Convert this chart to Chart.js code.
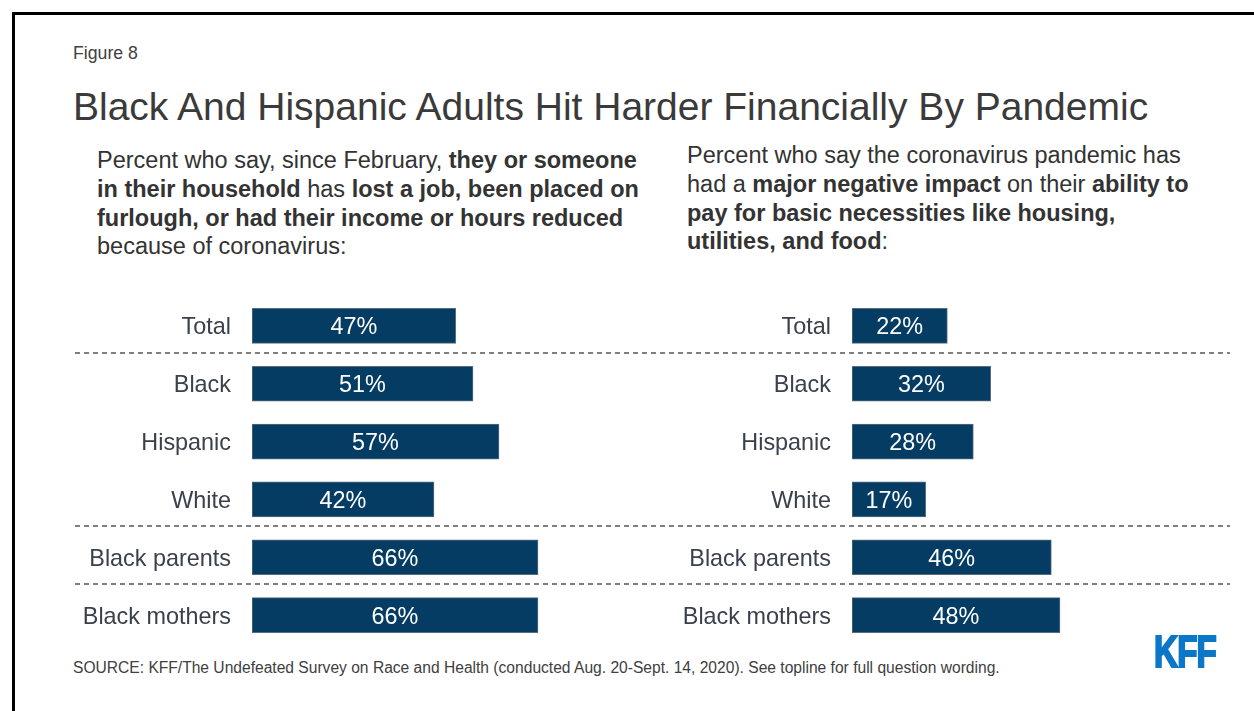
<!DOCTYPE html>
<html>
<head>
<meta charset="utf-8">
<script src="https://cdn.jsdelivr.net/npm/chart.js@4.4.0/dist/chart.umd.min.js"></script>
<style>
  html, body { margin: 0; padding: 0; background: #fff; }
  body {
    width: 1254px; height: 711px; position: relative; overflow: hidden;
    font-family: Arial, "Liberation Sans", sans-serif; color: #333;
  }
  .frame {
    position: absolute; left: 12px; top: 12px; width: 1260px; height: 720px;
    border-top: 3px solid #000; border-left: 3px solid #000;
  }
  .fig { position: absolute; left: 73px; top: 43px; font-size: 17.7px; line-height: 20px; color: #404040; }
  .title { position: absolute; left: 73px; top: 85px; font-size: 39px; line-height: 44px; color: #3a3a3a; white-space: nowrap; }
  .sub { position: absolute; font-size: 23.5px; line-height: 28.8px; color: #333; white-space: nowrap; }
  .sub b { font-weight: bold; }
  #subLeft { left: 97px; top: 146px; }
  #subRight { left: 687px; top: 141px; }
  .source { position: absolute; left: 73px; top: 658px; font-size: 15.6px; line-height: 20px; color: #404040; white-space: nowrap; }
  .logo {
    position: absolute; left: 1154px; top: 628px; font-size: 44.7px; line-height: 48px;
    font-weight: bold; color: #0a77c9; transform: scaleX(0.74); transform-origin: left center;
    letter-spacing: -1px; -webkit-text-stroke: 2.2px #0a77c9;
  }
  canvas { position: absolute; }
  #chartLeft { left: 75px; top: 297px; }
  #chartRight { left: 660px; top: 297px; }
</style>
</head>
<body>
<div class="frame"></div>
<div class="fig">Figure 8</div>
<div class="title">Black And Hispanic Adults Hit Harder Financially By Pandemic</div>
<div class="sub" id="subLeft">Percent who say, since February, <b>they or someone</b><br><b>in their household</b> has <b>lost a job, been placed on</b><br><b>furlough, or had their income or hours reduced</b><br>because of coronavirus:</div>
<div class="sub" id="subRight">Percent who say the coronavirus pandemic has<br>had a <b>major negative impact</b> on their <b>ability to</b><br><b>pay for basic necessities like housing,</b><br><b>utilities, and food</b>:</div>
<canvas id="chartLeft" width="585" height="347"></canvas>
<canvas id="chartRight" width="570" height="347"></canvas>
<div class="source">SOURCE: KFF/The Undefeated Survey on Race and Health (conducted Aug. 20-Sept. 14, 2020). See topline for full question wording.</div>
<div class="logo">KFF</div>

<script>
const categories = ['Total', 'Black', 'Hispanic', 'White', 'Black parents', 'Black mothers'];
// lost job / furlough / reduced income or hours
const jobLossValues = [47, 51, 57, 42, 66, 66];
// major negative impact on paying for basic necessities
const necessitiesValues = [22, 32, 28, 17, 46, 48];
// dashed separators go after these category indexes
const groupBreaks = [0, 3, 4];

const barColor = '#053c64';
const labelFont = { family: 'Arial, "Liberation Sans", sans-serif', size: 23.4 };

// dashed rules between the groups, across the full canvas width
const separators = {
    id: 'separators',
    afterDraw(chart) {
        const ctx = chart.ctx;
        const y = chart.scales.y;
        ctx.save();
        ctx.strokeStyle = '#555';
        ctx.lineWidth = 1.5;
        ctx.setLineDash([5, 4]);
        groupBreaks.forEach(i => {
            const py = Math.round((y.getPixelForValue(i) + y.getPixelForValue(i + 1)) / 2) - 2;
            ctx.beginPath();
            ctx.moveTo(0, py);
            ctx.lineTo(chart.width, py);
            ctx.stroke();
        });
        ctx.restore();
    }
};

// percent labels centred inside each bar
const barLabels = {
    id: 'barLabels',
    afterDatasetsDraw(chart) {
        const ctx = chart.ctx;
        const meta = chart.getDatasetMeta(0);
        const data = chart.data.datasets[0].data;
        ctx.save();
        ctx.fillStyle = '#fff';
        ctx.font = labelFont.size + 'px ' + labelFont.family;
        ctx.textAlign = 'center';
        ctx.textBaseline = 'middle';
        meta.data.forEach((bar, i) => {
            ctx.fillText(data[i] + '%', (bar.x + bar.base) / 2, bar.y + 2);
        });
        ctx.restore();
    }
};

function drawPanel(canvasId, values, xMax, axisWidth, padRight) {
    const ctx = document.getElementById(canvasId).getContext('2d');
    return new Chart(ctx, {
        type: 'bar',
        data: {
            labels: categories,
            datasets: [{
                data: values,
                backgroundColor: barColor,
                borderColor: '#5a6d80',
                borderWidth: 1,
                borderSkipped: false,
                barThickness: 35
            }]
        },
        options: {
            indexAxis: 'y',
            responsive: false,
            animation: false,
            layout: { padding: { left: 0, right: padRight, top: 0, bottom: 0 } },
            plugins: {
                legend: { display: false },
                tooltip: { enabled: false }
            },
            scales: {
                x: { display: false, min: 0, max: xMax },
                y: {
                    grid: { display: false, drawTicks: false },
                    border: { display: false },
                    ticks: { color: '#3a404c', font: labelFont, padding: 21, labelOffset: 2 },
                    afterFit(scale) {
                        scale.width = axisWidth;
                        scale.paddingTop = 0;
                        scale.paddingBottom = 0;
                    }
                }
            }
        },
        plugins: [separators, barLabels]
    });
}

drawPanel('chartLeft', jobLossValues, 90, 177, 18);
drawPanel('chartRight', necessitiesValues, 80, 192, 570 - 192 - 80 * 390 / 90);
</script>
</body>
</html>
